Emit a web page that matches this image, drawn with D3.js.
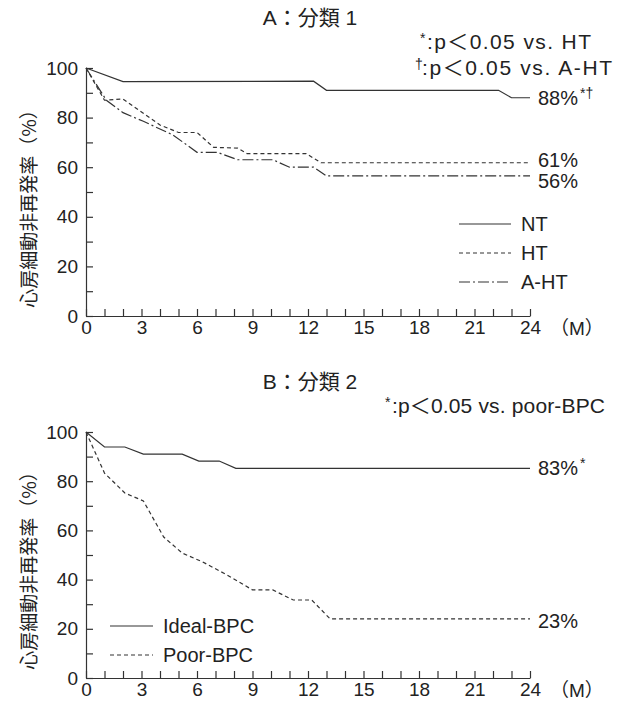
<!DOCTYPE html>
<html>
<head>
<meta charset="utf-8">
<script src="https://d3js.org/d3.v7.min.js"></script>
<style>
  body { margin: 0; background: #fff; }
  svg { display: block; font-family: "Liberation Sans", Arial, "Noto Sans CJK JP", sans-serif; }
  .jp { font-family: "Liberation Sans", "Noto Sans CJK JP", sans-serif; }
</style>
</head>
<body>
<svg width="620" height="702"></svg>
<script>
// month ticks and rate ticks
var monthTicks = d3.range(0, 25, 1);
var monthLabels = [0, 3, 6, 9, 12, 15, 18, 21, 24];
var rateTicks = d3.range(0, 101, 10);
var rateLabels = [0, 20, 40, 60, 80, 100];

// A: 分類1
var ntMonth = [0, 2, 12.3, 13, 22.3, 23, 24];
var ntRate  = [100, 94.5, 94.7, 91, 91, 88, 88];
var htMonth = [0, 1, 2, 4, 5, 6, 6.9, 8.2, 8.7, 11.9, 12.7, 24];
var htRate  = [100, 87, 87.5, 77, 74, 74, 68, 67.7, 65.5, 65.5, 61.8, 61.8];
var ahtMonth = [0, 1.1, 2, 3.1, 4.7, 6, 7.1, 8.2, 10.1, 11, 12.3, 13, 24];
var ahtRate  = [100, 87, 82, 78.5, 73, 66, 66, 63, 63, 60, 60, 56.5, 56.5];

// B: 分類2
var idealMonth = [0, 1, 2.1, 3.1, 5.2, 6.1, 7.2, 8.1, 24];
var idealRate  = [100, 93.9, 93.9, 91, 91, 88.2, 88.2, 85.2, 85.2];
var poorMonth = [0, 1, 2.1, 3.1, 4.2, 5.2, 6.3, 7.6, 9, 10.1, 11.2, 12.2, 13.2, 24];
var poorRate  = [100, 83.3, 75.2, 72, 57.3, 50.8, 47.2, 42, 35.8, 35.8, 31.7, 31.7, 24, 24];

var svg = d3.select("svg");
var ink = "#333";
var x = d3.scaleLinear().domain([0, 24]).range([86, 530]);

var styles = {
  solid: null,
  dash: "4,3",
  dashdot: "11,3,2,3"
};

function pts(m, r) {
  return m.map(function (d, i) { return [d, r[i]]; });
}

function panel(y, title, note, series, ends, legend) {
  var g = svg.append("g");
  var y0 = y.range()[0];

  var yAxis = d3.axisLeft(y).tickValues(rateTicks).tickSize(-7).tickSizeOuter(0).tickPadding(8)
    .tickFormat(function (d) { return rateLabels.indexOf(d) >= 0 ? d : ""; });
  var xAxis = d3.axisBottom(x).tickValues(monthTicks).tickSize(-7).tickSizeOuter(0).tickPadding(5)
    .tickFormat(function (d) { return monthLabels.indexOf(d) >= 0 ? d : ""; });

  var ya = g.append("g").attr("transform", "translate(" + x(0) + ",0)").call(yAxis);
  var xa = g.append("g").attr("transform", "translate(0," + y0 + ")").call(xAxis);
  [ya, xa].forEach(function (a) {
    a.selectAll("path,line").attr("stroke", ink).attr("stroke-width", 1.2);
    a.selectAll("text").attr("fill", "#222").attr("font-size", 19)
      .attr("font-family", "Liberation Sans, Arial, sans-serif");
  });

  g.append("text").attr("x", 550).attr("y", y0 + 18.5).attr("font-size", 19).attr("fill", "#222")
    .attr("class", "jp").text("（M）");

  g.append("text").attr("fill", "#222").attr("font-size", 19)
    .attr("font-family", "Noto Sans CJK JP, sans-serif")
    .attr("transform", "translate(36," + (y0 - 112) + ") rotate(-90)")
    .attr("text-anchor", "middle")
    .text("心房細動非再発率（%）");

  g.append("text").attr("class", "jp").attr("fill", "#222").attr("font-size", 21)
    .attr("x", 310).attr("y", y.range()[1] - 43).attr("text-anchor", "middle").text(title);

  note.forEach(function (n, i) {
    var ny = y.range()[1] - 19 + i * 26;
    g.append("text").attr("fill", "#222").attr("font-size", 14)
      .attr("x", n.x).attr("y", ny - 6).text(n.mark);
    g.append("text").attr("class", "jp").attr("fill", "#222").attr("font-size", 21)
      .attr("x", n.x + 7).attr("y", ny)
      .attr("textLength", n.end - n.x - 7).attr("lengthAdjust", "spacing")
      .text(":p＜0.05 vs. " + n.vs);
  });

  var line = d3.line().x(function (d) { return x(d[0]); }).y(function (d) { return y(d[1]); });
  series.forEach(function (s) {
    g.append("path").datum(pts(s.m, s.r)).attr("d", line)
      .attr("fill", "none").attr("stroke", ink).attr("stroke-width", 1.2)
      .attr("stroke-dasharray", styles[s.style]);
  });

  ends.forEach(function (e) {
    var t = g.append("text").attr("fill", "#222").attr("font-size", 20)
      .attr("x", 538).attr("y", y(e.v) + 7 + (e.dy || 0));
    t.append("tspan").text(e.label);
    if (e.sup) t.append("tspan").attr("font-size", 14).attr("dy", -7).attr("dx", 2).text(e.sup);
  });

  legend.items.forEach(function (s, i) {
    var ly = legend.y + i * legend.step;
    g.append("line").attr("x1", legend.x).attr("x2", legend.x + legend.w)
      .attr("y1", ly).attr("y2", ly).attr("stroke", ink).attr("stroke-width", 1.2)
      .attr("stroke-dasharray", styles[s.style]);
    g.append("text").attr("x", legend.x + legend.w + 10).attr("y", ly + 7)
      .attr("font-size", 20).attr("fill", "#222").text(s.name);
  });
}

var yA = d3.scaleLinear().domain([0, 100]).range([316, 68]);
var yB = d3.scaleLinear().domain([0, 100]).range([678, 432]);

var seriesA = [
  { name: "NT", m: ntMonth, r: ntRate, style: "solid" },
  { name: "HT", m: htMonth, r: htRate, style: "dash" },
  { name: "A-HT", m: ahtMonth, r: ahtRate, style: "dashdot" }
];
var seriesB = [
  { name: "Ideal-BPC", m: idealMonth, r: idealRate, style: "solid" },
  { name: "Poor-BPC", m: poorMonth, r: poorRate, style: "dash" }
];

panel(yA, "A：分類 1",
  [{ x: 420, end: 591, mark: "*", vs: "HT" }, { x: 415, end: 612, mark: "†", vs: "A-HT" }],
  seriesA,
  [{ v: ntRate[ntRate.length - 1], label: "88%", sup: "*†" },
   { v: htRate[htRate.length - 1], label: "61%", dy: -3 },
   { v: ahtRate[ahtRate.length - 1], label: "56%", dy: 5 }],
  { x: 459, y: 224, step: 29, w: 52, items: seriesA });

panel(yB, "B：分類 2",
  [{ x: 385, end: 605, mark: "*", vs: "poor-BPC" }],
  seriesB,
  [{ v: idealRate[idealRate.length - 1], label: "83%", sup: "*" },
   { v: poorRate[poorRate.length - 1], label: "23%", dy: 2 }],
  { x: 110, y: 626, step: 29, w: 43, items: seriesB });
</script>
</body>
</html>
